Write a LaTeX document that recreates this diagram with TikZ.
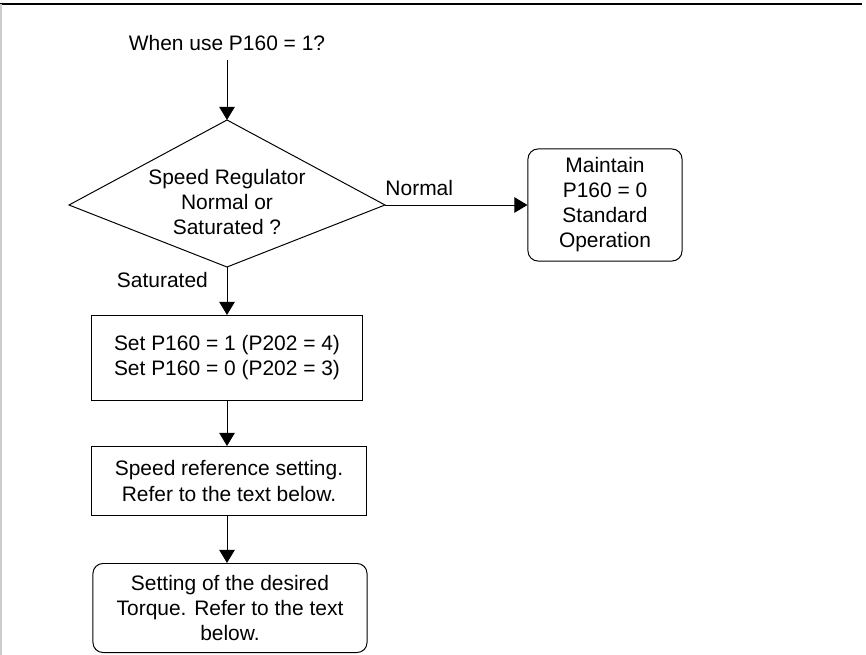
\documentclass[tikz,border=0pt]{standalone}
\usepackage{fontspec}
\setmainfont{Liberation Sans}
\usetikzlibrary{arrows.meta}

\begin{document}
\begin{tikzpicture}[x=0.025cm, y=-0.025cm,
      every node/.style={font=\fontsize{14.9}{17.8}\selectfont, align=center},
      box/.style={draw, line width=0.7pt, minimum width=6.8cm, align=center},
      rbox/.style={box, rounded corners=0.25cm},
      arr/.style={-{Triangle[length=3.3mm, width=3.9mm]}, line width=0.7pt}]
    \useasboundingbox (0,0) rectangle (866,655);
    \draw[line width=1.4pt] (0,4) -- (862,4);
    \draw[gray!40, line width=0.8pt] (1,4) -- (1,655);

    \node (ask) at (227,43) {When use P160 = 1?};
    % decision
    \coordinate (regT) at (227,120);
    \coordinate (regR) at (385,205);
    \coordinate (regB) at (227,267);
    \coordinate (regL) at (69,205);
    \draw[line width=0.7pt] (regT) -- (regR) -- (regB) -- (regL) -- cycle;
    \node (reg) at (227,202) {Speed Regulator\\ Normal or\\ Saturated ?};

    \node[rbox, minimum width=3.85cm, minimum height=2.8cm] (keep) at (605,205)
         {Maintain\\ P160 = 0\\ Standard\\ Operation};
    \node[box, minimum width=6.75cm, minimum height=2.125cm] (setp) at (227,358)
         {Set P160 = 1 (P202 = 4)\\ Set P160 = 0 (P202 = 3)};
    \node[box, minimum width=6.85cm, minimum height=1.725cm] (spd) at (229,481)
         {Speed reference setting.\\ Refer to the text below.};
    \node[rbox, minimum width=6.85cm, minimum height=2.225cm] (trq) at (230,608)
         {Setting of the desired\\ Torque. Refer to the text\\ below.};

    \draw[arr, shorten <=3pt] (ask) -- (regT);
    \draw[arr] (regR) -- node[pos=0, anchor=base west, yshift=0.225cm, inner sep=0pt]{Normal} (keep);
    \draw[arr] (regB) -- node[pos=0.27, left=0.35cm]{Saturated} (setp.north -| regB);
    \draw[arr] (setp.south -| regB) -- (spd.north -| regB);
    \draw[arr] (spd.south -| regB) -- (trq.north -| regB);
  \end{tikzpicture}
\end{document}
